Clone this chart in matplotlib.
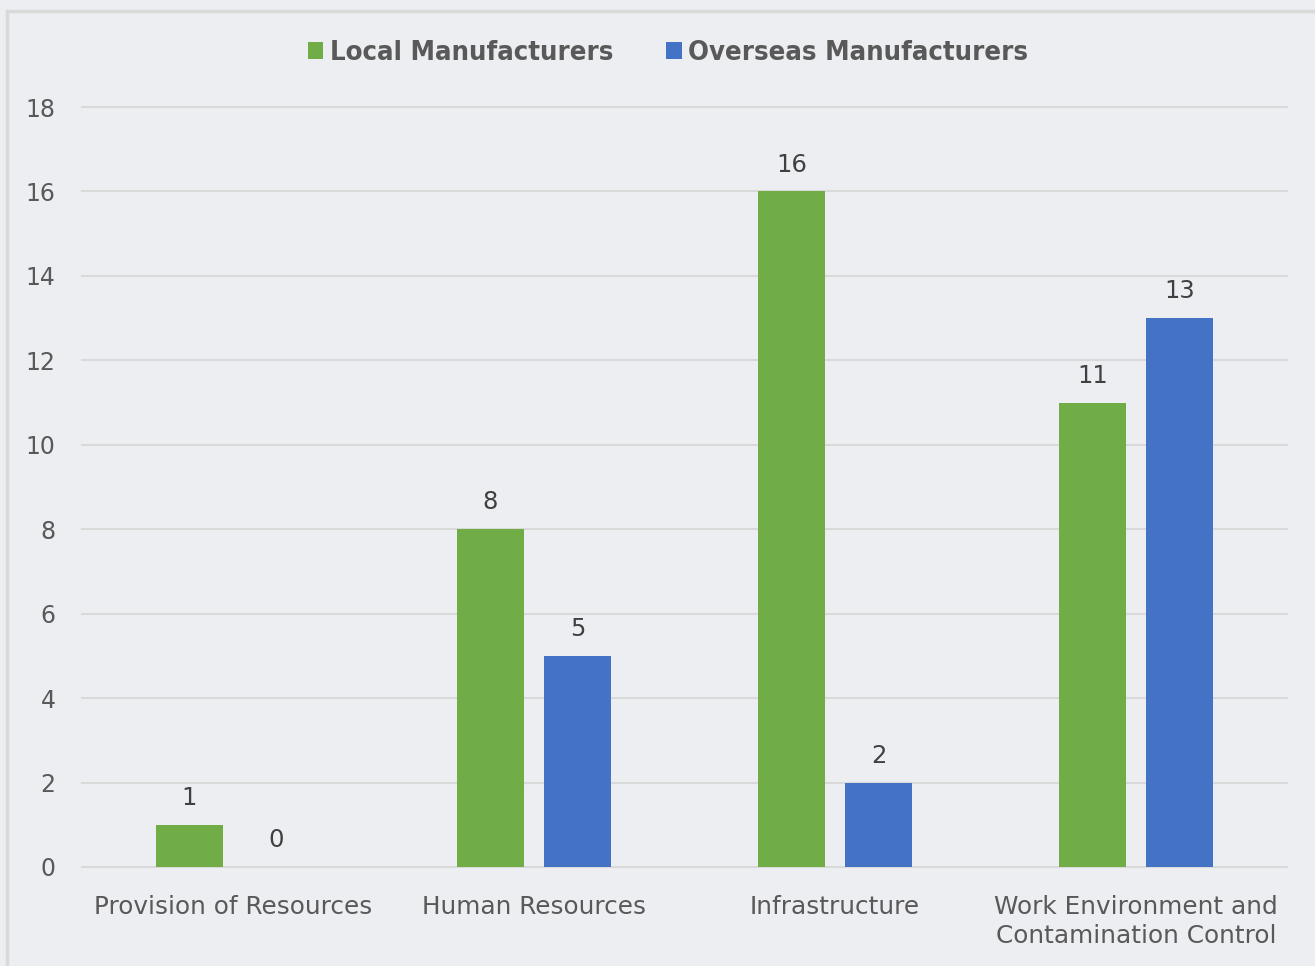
import matplotlib.pyplot as plt
import numpy as np
from matplotlib.patches import Rectangle

categories = ["Provision of Resources", "Human Resources", "Infrastructure",
              "Work Environment and\nContamination Control"]
local = [1, 8, 16, 11]
overseas = [0, 5, 2, 13]

bg = "#EDEEF2"
green = "#70AD47"
blue = "#4472C4"
text_col = "#595959"

plt.rcParams['font.family'] = ['DejaVu Sans']

fig = plt.figure(figsize=(13.15, 9.66), dpi=100, facecolor=bg)
ax = fig.add_axes([0.0624, 0.1025, 0.9163, 0.7867], facecolor=bg)

# outer chart border, running off the right and bottom edges
fig.patches.append(Rectangle((7 / 1315, -0.05), 1.1, 0.05 + (966 - 11) / 966,
                             transform=fig.transFigure, fill=False,
                             edgecolor="#D9D9D9", linewidth=2.5, zorder=0))

x = np.arange(len(categories))
w = 0.223
off = 0.1443
b1 = ax.bar(x - off, local, w, color=green, label="Local Manufacturers", zorder=3)
b2 = ax.bar(x + off, overseas, w, color=blue, label="Overseas Manufacturers", zorder=3)

for bars, vals in ((b1, local), (b2, overseas)):
    for rect, v in zip(bars, vals):
        ax.text(rect.get_x() + rect.get_width() / 2, v + 0.35, str(v),
                ha="center", va="bottom", fontsize=17.5, color="#404040")

ax.set_xlim(-0.5, 3.5)
ax.set_ylim(0, 18)
ax.set_yticks(range(0, 19, 2))
ax.set_xticks(x)
ax.set_xticklabels(categories, fontsize=17.8, color=text_col, linespacing=1.3,
                   multialignment="center")
ax.tick_params(axis="y", labelsize=17, labelcolor=text_col, length=0, pad=19)
ax.tick_params(axis="x", length=0, pad=20)
ax.grid(axis="y", color="#D9D9D9", linewidth=1.5, zorder=0)
for gl in ax.get_ygridlines():
    gl.set_clip_on(False)
for s in ax.spines.values():
    s.set_visible(False)

leg = fig.legend(loc="center", bbox_to_anchor=(0.508, 0.945), ncol=2, frameon=False,
                 handlelength=0.58, handleheight=0.58, handletextpad=0.25,
                 columnspacing=1.9,
                 prop={"size": 19.7, "weight": "bold", "stretch": "condensed"})
for t in leg.get_texts():
    t.set_color(text_col)

fig.savefig("out.png", dpi=100, facecolor=bg)
